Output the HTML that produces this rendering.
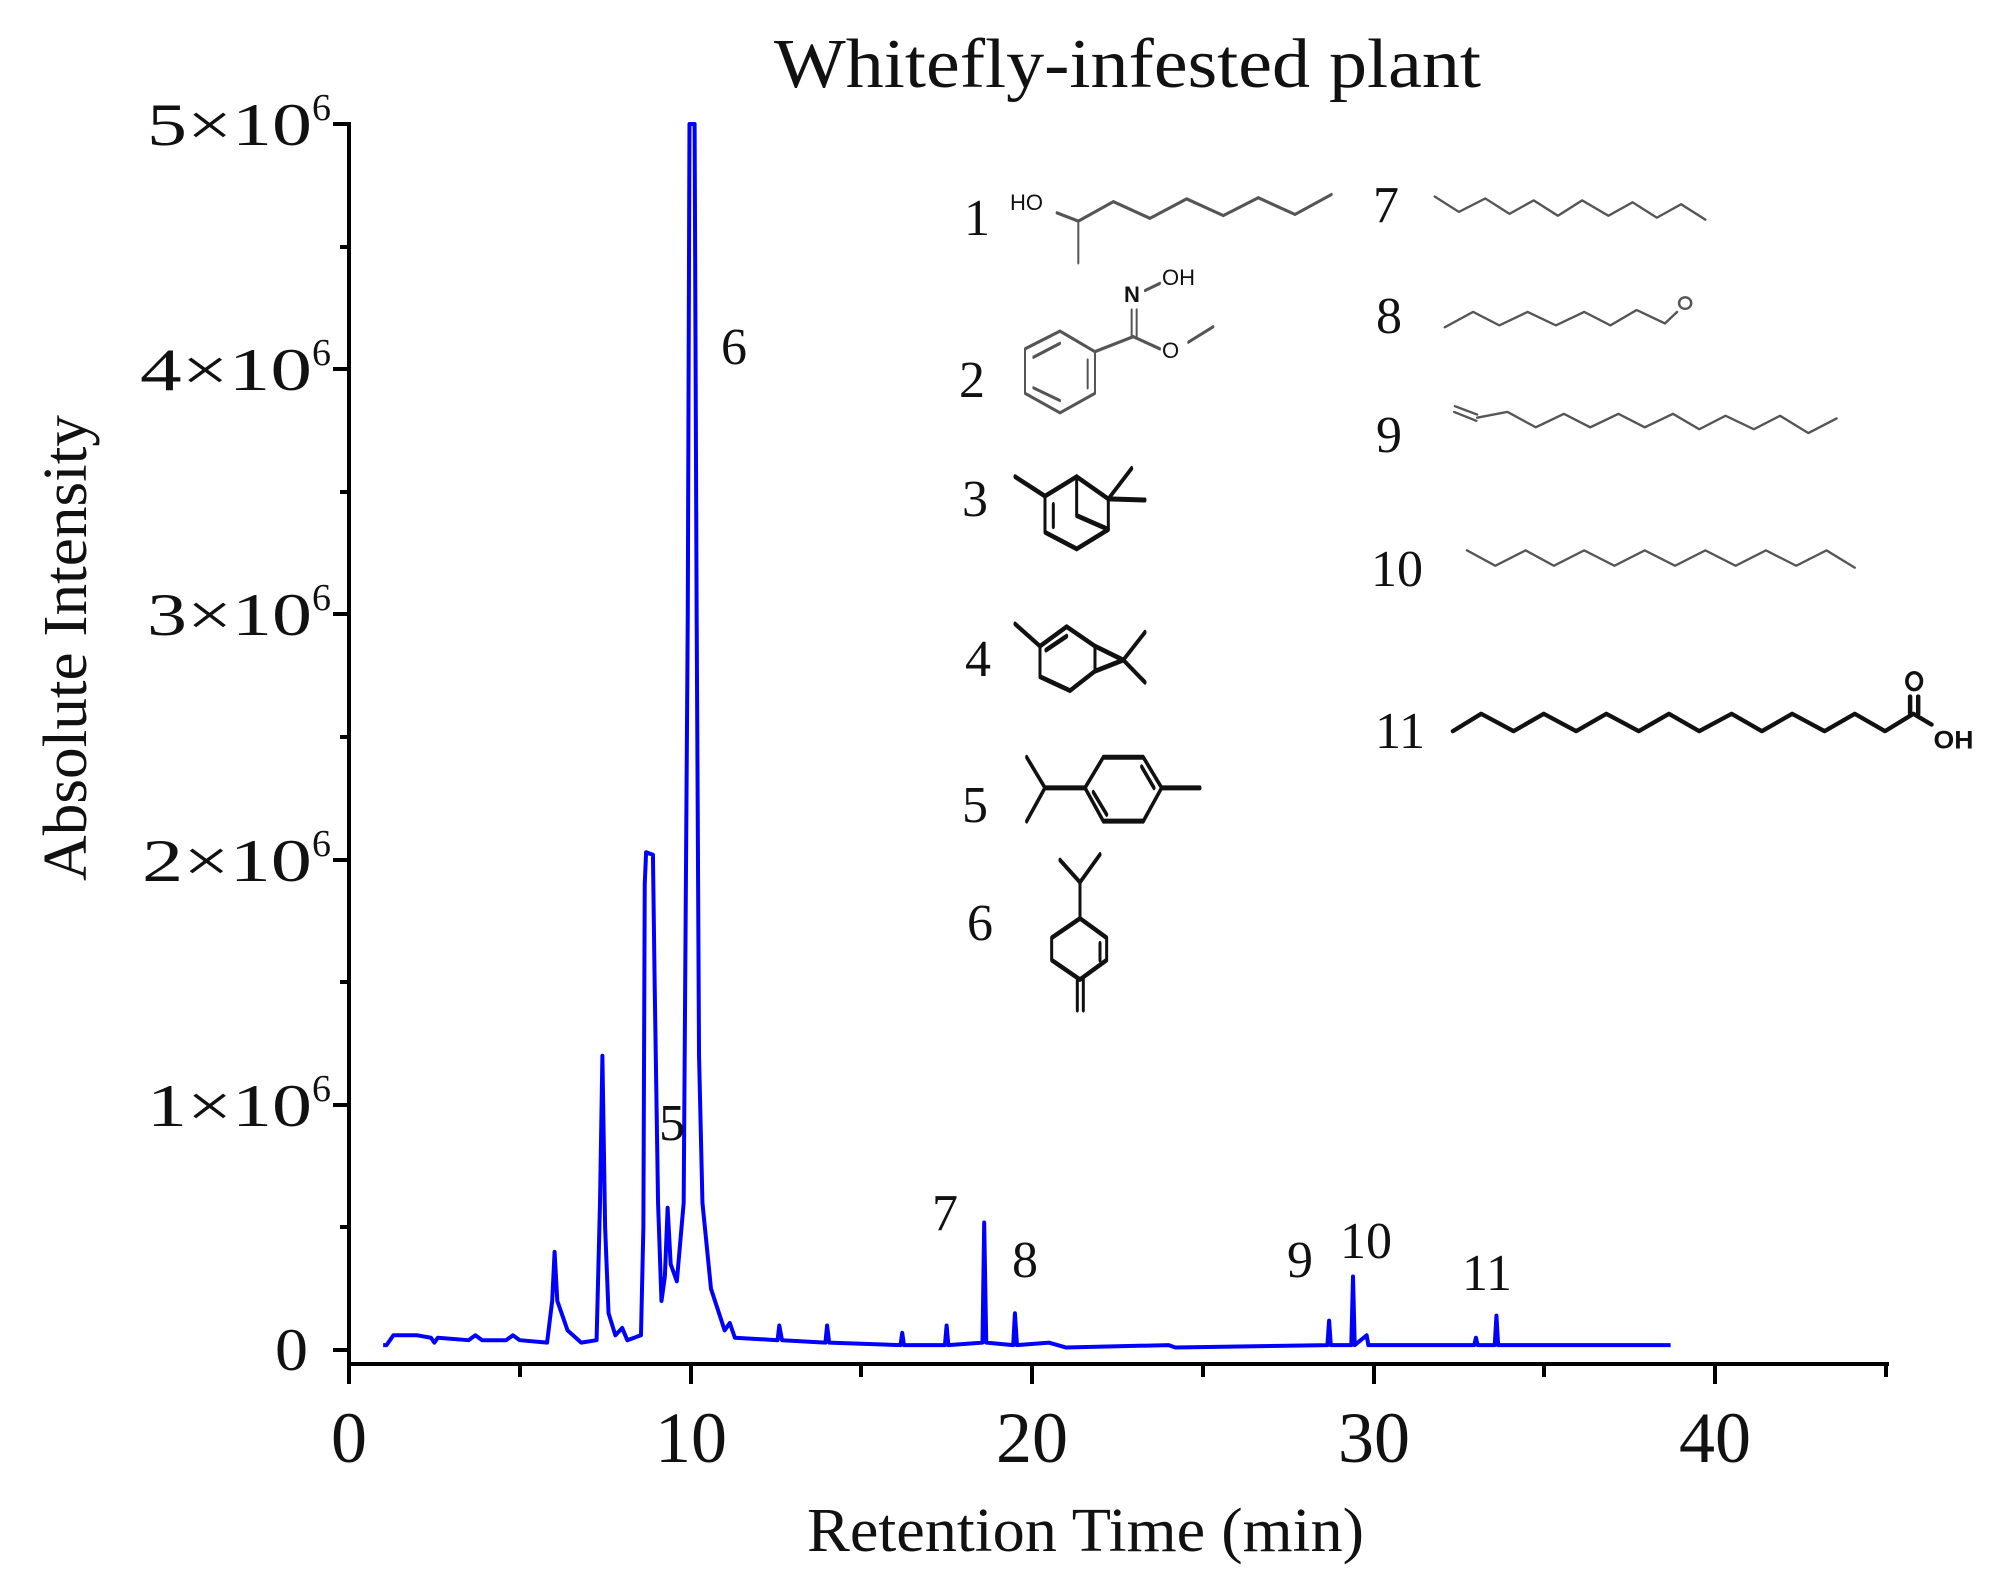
<!DOCTYPE html>
<html><head><meta charset="utf-8"><style>
html,body{margin:0;padding:0;background:#fff;}
svg{display:block;}
text{font-family:"Liberation Serif",serif;fill:#111;}
.s{font-family:"Liberation Sans",sans-serif;}
</style></head><body>
<svg width="2002" height="1593" viewBox="0 0 2002 1593" xmlns="http://www.w3.org/2000/svg">
<rect width="2002" height="1593" fill="#fff"/>
<text x="774" y="87" font-size="70" textLength="707" lengthAdjust="spacingAndGlyphs">Whitefly-infested plant</text>
<g stroke="#000" stroke-width="4" fill="none">
<line x1="349" y1="122" x2="349" y2="1366"/>
<line x1="347" y1="1364" x2="1889" y2="1364"/>
<line x1="333" y1="124" x2="349" y2="124"/>
<line x1="333" y1="369" x2="349" y2="369"/>
<line x1="333" y1="614" x2="349" y2="614"/>
<line x1="333" y1="860" x2="349" y2="860"/>
<line x1="333" y1="1105" x2="349" y2="1105"/>
<line x1="333" y1="1350" x2="349" y2="1350"/>
<line x1="340" y1="247" x2="349" y2="247"/>
<line x1="340" y1="492" x2="349" y2="492"/>
<line x1="340" y1="737" x2="349" y2="737"/>
<line x1="340" y1="982" x2="349" y2="982"/>
<line x1="340" y1="1227" x2="349" y2="1227"/>
<line x1="349" y1="1364" x2="349" y2="1384"/>
<line x1="691" y1="1364" x2="691" y2="1384"/>
<line x1="1032" y1="1364" x2="1032" y2="1384"/>
<line x1="1374" y1="1364" x2="1374" y2="1384"/>
<line x1="1715" y1="1364" x2="1715" y2="1384"/>
<line x1="520" y1="1364" x2="520" y2="1377"/>
<line x1="861" y1="1364" x2="861" y2="1377"/>
<line x1="1203" y1="1364" x2="1203" y2="1377"/>
<line x1="1544" y1="1364" x2="1544" y2="1377"/>
<line x1="1886" y1="1364" x2="1886" y2="1377"/>
</g>
<g font-size="60">
<text x="147" y="145" textLength="165" lengthAdjust="spacingAndGlyphs">5×10</text><text x="312" y="120" font-size="38">6</text>
<text x="140" y="390" textLength="172" lengthAdjust="spacingAndGlyphs">4×10</text><text x="312" y="365" font-size="38">6</text>
<text x="147" y="635" textLength="165" lengthAdjust="spacingAndGlyphs">3×10</text><text x="312" y="610" font-size="38">6</text>
<text x="142" y="881" textLength="170" lengthAdjust="spacingAndGlyphs">2×10</text><text x="312" y="856" font-size="38">6</text>
<text x="147" y="1126" textLength="165" lengthAdjust="spacingAndGlyphs">1×10</text><text x="312" y="1101" font-size="38">6</text>
<text x="275" y="1370" textLength="33" lengthAdjust="spacingAndGlyphs">0</text>
</g>
<g font-size="72" text-anchor="middle">
<text x="349" y="1462">0</text>
<text x="691" y="1462">10</text>
<text x="1032" y="1462">20</text>
<text x="1374" y="1462">30</text>
<text x="1715" y="1462">40</text>
</g>
<text x="807" y="1551" font-size="62" textLength="557" lengthAdjust="spacingAndGlyphs">Retention Time (min)</text>
<text transform="translate(86,881) rotate(-90)" font-size="62" textLength="466" lengthAdjust="spacingAndGlyphs">Absolute Intensity</text>

<g transform="translate(349,1350) scale(34.15,-245.2)">
<polyline fill="none" stroke="#0000ff" stroke-width="4" vector-effect="non-scaling-stroke" stroke-linejoin="round" points="
1.0,0.02 1.1,0.02 1.3,0.06 2.0,0.06 2.4,0.05 2.5,0.03 2.6,0.05 3.5,0.04 3.7,0.06 3.9,0.04 4.6,0.04 4.8,0.06 5.0,0.04 5.8,0.03 5.95,0.2 6.02,0.4 6.1,0.2 6.4,0.08 6.8,0.03 7.25,0.04 7.35,0.6 7.42,1.2 7.5,0.5 7.6,0.15 7.8,0.06 8.0,0.09 8.15,0.04 8.55,0.06 8.62,0.5 8.66,1.9 8.7,2.03 8.9,2.02 8.95,1.5 9.05,0.6 9.15,0.2 9.25,0.3 9.33,0.58 9.42,0.35 9.6,0.28 9.8,0.6 9.92,3 9.97,5.0 10.12,5.0 10.18,3 10.25,1.2 10.35,0.6 10.6,0.25 11.0,0.08 11.15,0.11 11.3,0.05 12.55,0.04 12.6,0.1 12.68,0.04 13.95,0.03 14.0,0.1 14.06,0.03 16.15,0.02 16.2,0.07 16.25,0.02 17.45,0.02 17.5,0.1 17.55,0.02 18.55,0.03 18.6,0.52 18.66,0.03 19.45,0.02 19.5,0.15 19.56,0.02 20.5,0.03 21,0.01 24,0.02 24.2,0.01 28.65,0.02 28.7,0.12 28.75,0.02 29.35,0.02 29.4,0.3 29.45,0.02 29.8,0.06 29.85,0.02 32.95,0.02 33.0,0.05 33.05,0.02 33.55,0.02 33.6,0.14 33.65,0.02 38.7,0.02"/>
</g>

<g font-size="52" text-anchor="middle">
<text x="734" y="364">6</text>
<text x="672" y="1140">5</text>
<text x="945" y="1230">7</text>
<text x="1025" y="1277">8</text>
<text x="1300" y="1277">9</text>
<text x="1366" y="1258">10</text>
<text x="1487" y="1290">11</text>
</g>
<g font-size="52" text-anchor="middle">
<text x="977" y="235">1</text>
<text x="972" y="397">2</text>
<text x="975" y="516">3</text>
<text x="978" y="676">4</text>
<text x="975" y="822">5</text>
<text x="980" y="940">6</text>
<text x="1386" y="222">7</text>
<text x="1389" y="333">8</text>
<text x="1389" y="452">9</text>
<text x="1397" y="586">10</text>
<text x="1400" y="748">11</text>
</g>

<g transform="translate(960,160) scale(0.3333,0.5556)" fill="none" stroke-linecap="round" stroke-linejoin="round">
<g stroke="#555" stroke-width="6">
<polyline points="290,95 355,110 460,75 570,105 680,70 790,100 895,68 1005,98 1115,62"/>
<line x1="355" y1="110" x2="355" y2="185"/>
<polygon points="195,340 300,308 405,345 405,420 300,455 195,420"/>
<line x1="220" y1="355" x2="300" y2="330"/>
<line x1="383" y1="360" x2="383" y2="410"/>
<line x1="220" y1="410" x2="300" y2="433"/>
<line x1="405" y1="345" x2="520" y2="318"/>
<line x1="515" y1="318" x2="515" y2="270"/>
<line x1="530" y1="318" x2="530" y2="270"/>
<line x1="555" y1="235" x2="600" y2="222"/>
<line x1="520" y1="318" x2="600" y2="340"/>
<line x1="685" y1="328" x2="760" y2="300"/>
</g>
<g stroke="#111" stroke-width="9">
<line x1="165" y1="570" x2="255" y2="605"/>
<polyline points="255,605 350,570 445,610 445,665 350,700 255,670 255,605"/>
<polyline points="350,570 350,640 445,665"/>
<line x1="280" y1="620" x2="280" y2="660"/>
<line x1="445" y1="610" x2="515" y2="555"/>
<line x1="445" y1="610" x2="555" y2="612"/>
<line x1="165" y1="835" x2="240" y2="875"/>
<polygon points="240,875 320,840 405,875 405,920 330,955 240,930"/>
<line x1="258" y1="882" x2="320" y2="857"/>
<polyline points="405,875 490,900 405,920"/>
<line x1="490" y1="900" x2="555" y2="850"/>
<line x1="490" y1="900" x2="555" y2="940"/>
<polyline points="200,1075 255,1130 200,1190"/>
<line x1="255" y1="1130" x2="375" y2="1130"/>
<polygon points="375,1130 430,1075 550,1075 605,1130 550,1190 430,1190"/>
<line x1="400" y1="1138" x2="440" y2="1178"/>
<line x1="545" y1="1092" x2="582" y2="1130"/>
<line x1="605" y1="1130" x2="720" y2="1130"/>
<polyline points="300,1260 360,1300 420,1250"/>
<line x1="360" y1="1300" x2="360" y2="1365"/>
<polygon points="360,1365 440,1400 440,1440 360,1475 275,1440 275,1400"/>
<line x1="420" y1="1410" x2="420" y2="1440"/>
<line x1="352" y1="1475" x2="352" y2="1530"/>
<line x1="370" y1="1475" x2="370" y2="1530"/>
</g>
</g>
<g fill="#333" font-size="22">
<text x="1010" y="210" class="s">HO</text>
<text x="1124" y="302" class="s" font-weight="bold">N</text>
<text x="1162" y="285" class="s">OH</text>
<text x="1162" y="358" class="s">O</text>
</g>

<g transform="translate(1360,160) scale(0.4039,0.3846)" fill="none" stroke-linecap="round" stroke-linejoin="round">
<g stroke="#555" stroke-width="6">
<polyline points="185,95 245,135 310,100 370,140 430,105 490,145 550,105 615,145 675,110 735,150 795,115 855,155"/>
<polyline points="210,435 280,395 345,430 415,395 485,430 555,395 620,430 685,390 755,425 785,395"/>
<circle cx="805" cy="372" r="15"/>
<line x1="235" y1="640" x2="290" y2="662"/>
<line x1="233" y1="655" x2="288" y2="678"/>
<polyline points="290,670 365,655 435,695 505,660 570,695 640,660 705,695 775,660 840,700 905,665 975,700 1040,665 1110,710 1180,672"/>
<polyline points="265,1015 335,1055 410,1015 480,1055 555,1015 630,1055 705,1015 780,1055 855,1015 930,1055 1005,1015 1080,1055 1155,1015 1225,1060"/>
</g>
<g stroke="#111" stroke-width="11">
<polyline points="230,1485 300,1440 380,1485 455,1440 535,1485 610,1440 690,1485 765,1440 840,1485 920,1440 995,1485 1070,1440 1150,1485 1225,1440 1300,1485 1370,1440 1415,1468"/>
<line x1="1362" y1="1440" x2="1362" y2="1395"/>
<line x1="1382" y1="1440" x2="1382" y2="1395"/>
<ellipse cx="1372" cy="1355" rx="18" ry="22" stroke-width="9"/>
</g>
<text x="1420" y="1530" font-size="66" fill="#111" stroke="none" class="s" font-weight="bold">OH</text>
</g>
</svg>
</body></html>
